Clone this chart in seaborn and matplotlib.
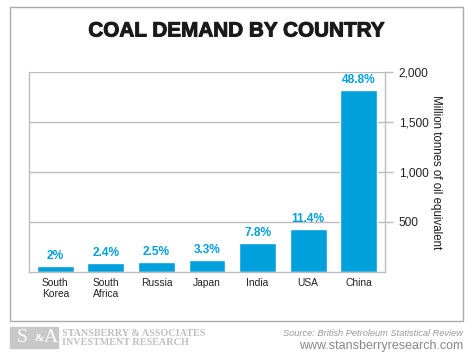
import matplotlib.pyplot as plt
import matplotlib.patheffects as pe
import seaborn as sns
import pandas as pd
from matplotlib.patches import Rectangle

# values (million tonnes of oil equivalent)
countries = ["South\nKorea", "South\nAfrica", "Russia", "Japan", "India", "USA", "China"]
demand = [60, 87, 97, 123, 290, 433, 1820]
shares = ["2%", "2.4%", "2.5%", "3.3%", "7.8%", "11.4%", "48.8%"]
yticks = [500, 1000, 1500, 2000]

df = pd.DataFrame({"Country": countries, "Demand": demand})

sns.set_style("white")
plt.rcParams["font.family"] = ["Liberation Sans", "DejaVu Sans"]

blue = "#00a0dc"
grey = "#bdbdbd"

W, H = 474, 363
fig = plt.figure(figsize=(W / 100, H / 100), dpi=100)
fig.patch.set_facecolor("white")

# outer frame
fig.patches.append(Rectangle((9.5 / W, (H - 320.5) / H), 453 / W, 313.5 / H,
                             transform=fig.transFigure, fill=False,
                             edgecolor="#aaaaaa", linewidth=1.0))

ax = fig.add_axes([29 / W, (H - 272) / H, 356 / W, 200 / H])
sns.barplot(data=df, x="Country", y="Demand", color=blue, width=0.73,
            saturation=1, ax=ax)

for i, (v, s) in enumerate(zip(demand, shares)):
    ax.annotate(s, (i, v), xytext=(0, 3), textcoords="offset points",
                ha="center", va="bottom", color=blue, fontsize=8.6,
                fontweight="bold")

ax.set_xlim(-0.52, 6.52)
ax.set_ylim(0, 2000)
ax.set_yticks(yticks)
ax.set_yticklabels([f"{t:,}" for t in yticks])
ax.yaxis.tick_right()
ax.yaxis.set_label_position("right")
ax.tick_params(axis="y", direction="out", length=6, width=1, color=grey,
               pad=4, labelsize=8.6, labelcolor="#222222")
ax.tick_params(axis="x", length=0, pad=4, labelsize=7.4, labelcolor="#222222")
ax.grid(axis="y", color=grey, linewidth=1)
ax.set_axisbelow(True)
for side in ["left", "right", "bottom"]:
    ax.spines[side].set_color(grey)
    ax.spines[side].set_linewidth(1)
ax.spines["top"].set_visible(False)
ax.set_xlabel("")
ax.set_ylabel("Million tonnes of oil equivalent", rotation=270, fontsize=8.3,
              color="#1a1a1a", va="center")
ax.yaxis.set_label_coords((436 - 29) / 356, (272 - 172.5) / 200)

fig.text(236 / W, 1 - 31 / H, "COAL DEMAND BY COUNTRY", ha="center",
         va="center", fontsize=14.9, fontweight="bold", color="#1a1a1a",
         path_effects=[pe.withStroke(linewidth=0.7, foreground="#1a1a1a")])

# footer
fig.patches.append(Rectangle((10 / W, (H - 347.5) / H), 23.5 / W, 20.5 / H,
                             transform=fig.transFigure, color="#c8c8c8"))
fig.patches.append(Rectangle((34.5 / W, (H - 347.5) / H), 23.5 / W, 20.5 / H,
                             transform=fig.transFigure, color="#c8c8c8"))
fig.text(22 / W, 1 - 337.5 / H, "S", ha="center", va="center", color="white",
         fontsize=14, family="Liberation Serif")
fig.text(39 / W, 1 - 338.5 / H, "&", ha="center", va="center", color="white",
         fontsize=8, fontweight="bold", family="Liberation Serif")
fig.text(50.5 / W, 1 - 337.5 / H, "A", ha="center", va="center", color="white",
         fontsize=14, family="Liberation Serif")
fig.text(62 / W, 1 - 333 / H, "STANSBERRY & ASSOCIATES", ha="left",
         va="center", color="#c0c0c0", fontsize=7.3, fontweight="bold",
         family="Liberation Serif")
fig.text(62 / W, 1 - 342.7 / H, "INVESTMENT RESEARCH", ha="left",
         va="center", color="#c0c0c0", fontsize=7.3, fontweight="bold",
         family="Liberation Serif")
fig.text(463 / W, 1 - 334 / H, "Source: British Petroleum Statistical Review",
         ha="right", va="center", color="#999999", fontsize=6.7, style="italic")
fig.text(463 / W, 1 - 345.7 / H, "www.stansberryresearch.com", ha="right",
         va="center", color="#888888", fontsize=9)

fig.savefig("out.png", dpi=100)
